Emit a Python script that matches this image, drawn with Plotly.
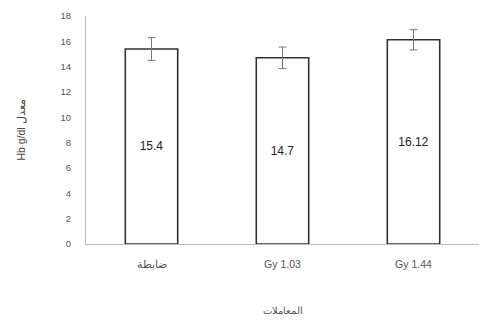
import plotly.graph_objects as go

# Treatment groups and mean haemoglobin values
categories = ["ضابطة", "Gy 1.03", "Gy 1.44"]
means = [15.4, 14.7, 16.12]
errors = [0.9, 0.85, 0.8]
labels = ["15.4", "14.7", "16.12"]
y_ticks = [0, 2, 4, 6, 8, 10, 12, 14, 16, 18]

fig = go.Figure(
    go.Bar(
        x=categories,
        y=means,
        text=labels,
        textposition="inside",
        insidetextanchor="middle",
        textfont=dict(size=12, color="#222"),
        marker=dict(color="white", line=dict(color="#333", width=1.6)),
        error_y=dict(type="data", array=errors, color="#777", thickness=1, width=4),
    )
)

fig.update_layout(
    width=480,
    height=324,
    margin=dict(l=86, r=1, t=16, b=80),
    plot_bgcolor="white",
    paper_bgcolor="white",
    bargap=0.6,
    showlegend=False,
    font=dict(family="Liberation Sans, Arial, sans-serif", color="#555", size=9),
)
fig.update_xaxes(
    showline=True,
    linecolor="#bbb",
    linewidth=1,
    ticks="",
    ticklabelstandoff=10,
    tickfont=dict(size=10.5, color="#555"),
    title=dict(text="المعاملات", font=dict(size=10, color="#555"), standoff=38),
)
fig.update_yaxes(
    range=[0, 18],
    tickvals=y_ticks,
    showline=True,
    linecolor="#bbb",
    linewidth=1,
    showgrid=False,
    zeroline=False,
    ticks="",
    ticklen=0,
    ticklabelstandoff=12,
    tickfont=dict(size=9.5, color="#555"),
    title=dict(text="Hb g/dl معدل", font=dict(size=10.5, color="#444"), standoff=32),
)

fig.write_html("out.html")
